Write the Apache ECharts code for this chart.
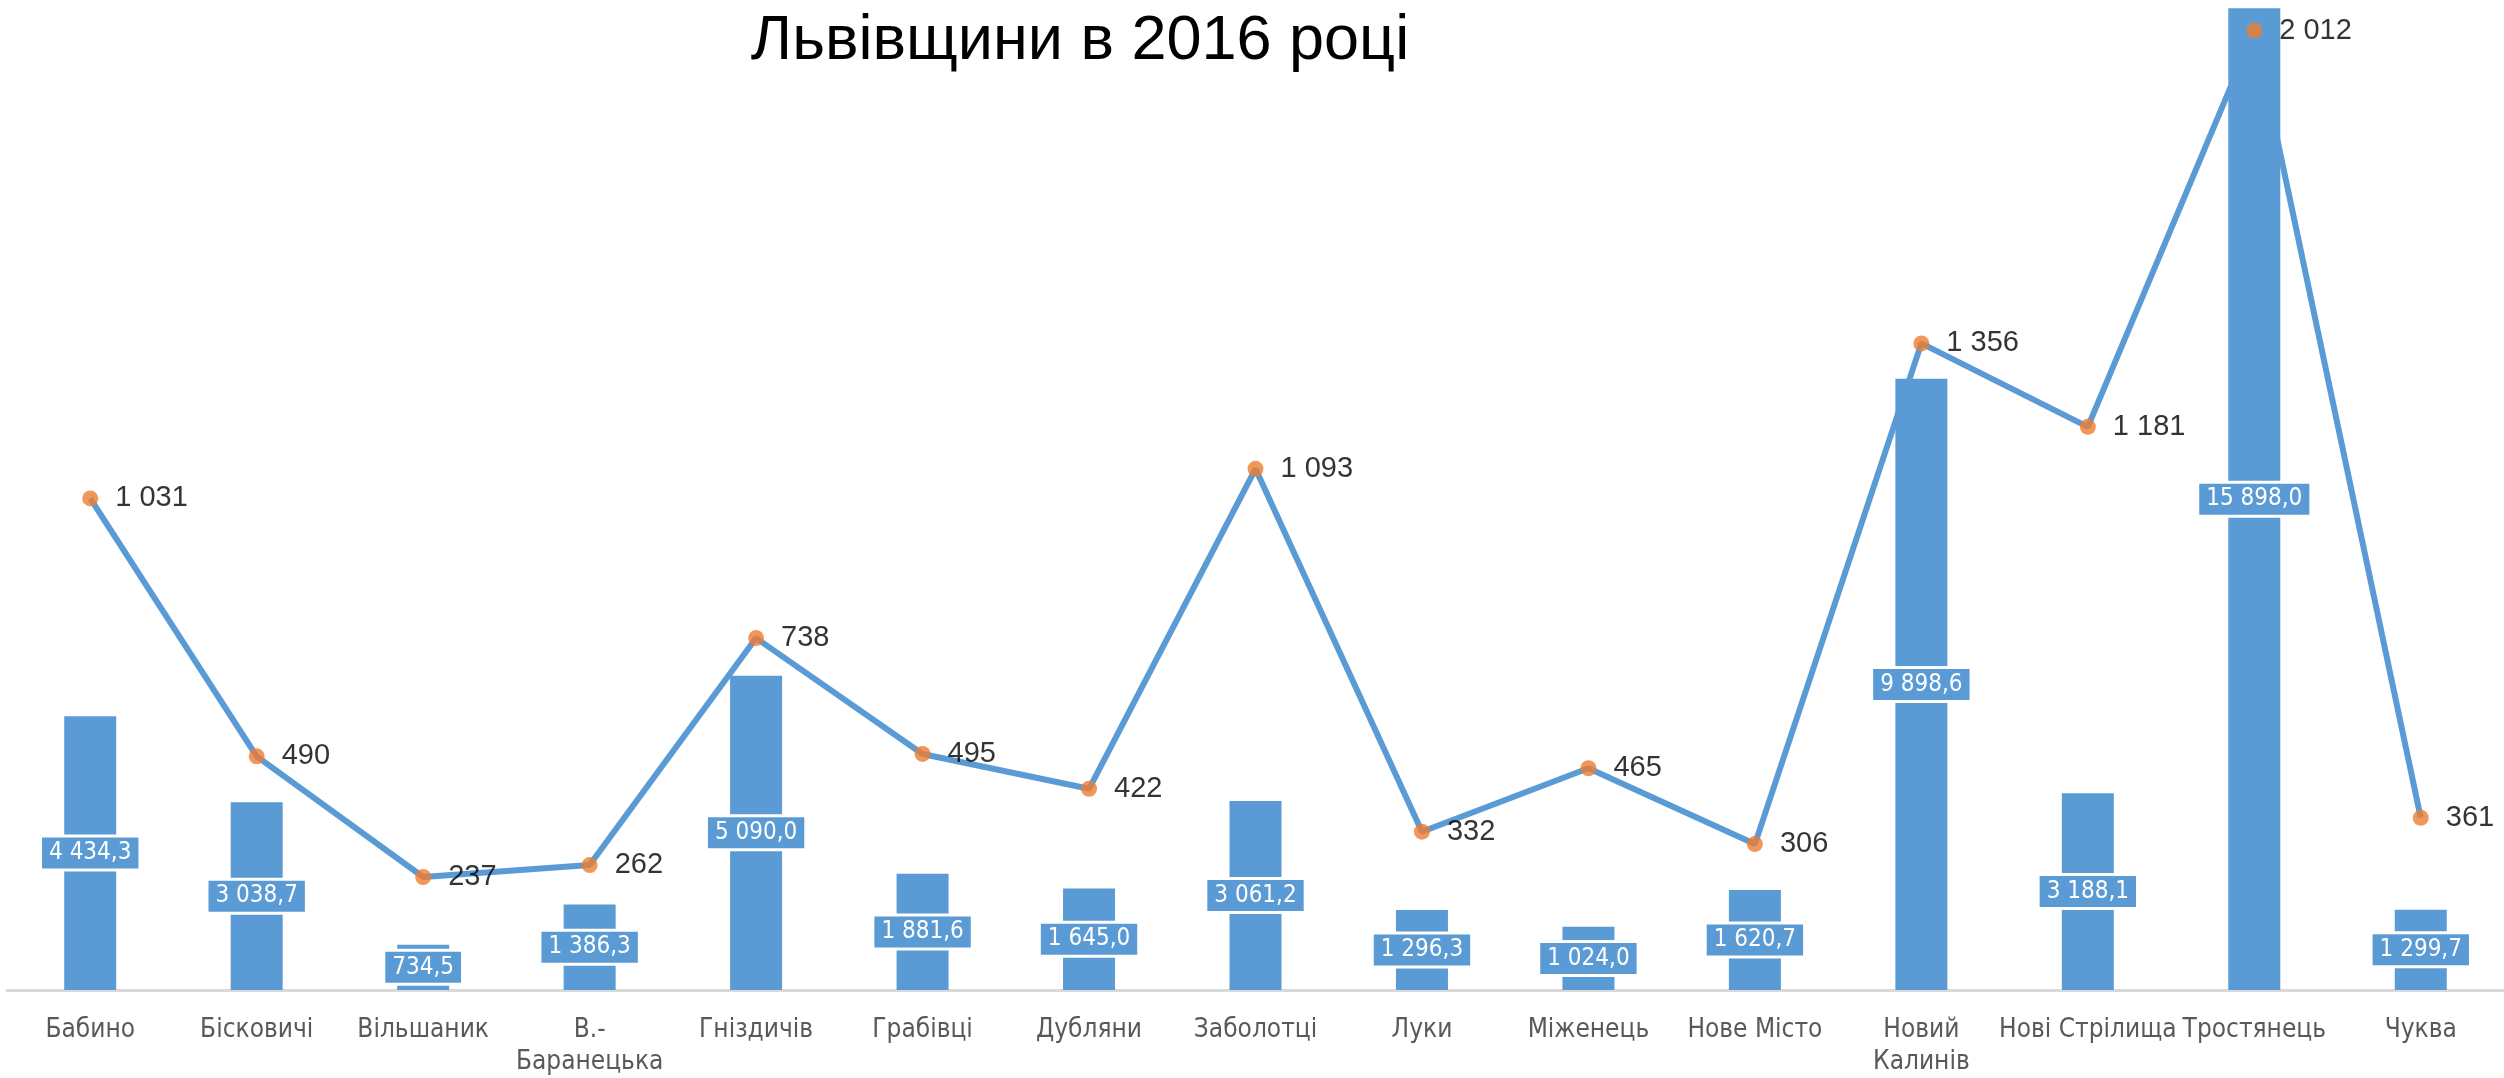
<!DOCTYPE html>
<html><head><meta charset="utf-8">
<script src="https://cdn.jsdelivr.net/npm/echarts@6/dist/echarts.min.js"></script>
<style>html,body{margin:0;padding:0;background:#fff}#c{width:2504px;height:1078px}</style>
</head><body><div id="c"></div>
<script>
const titleText = 'Львівщини в 2016 році';
const categories = ['Бабино','Бісковичі','Вільшаник','В.-Баранецька','Гніздичів','Грабівці','Дубляни','Заболотці','Луки','Міженець','Нове Місто','Новий Калинів','Нові Стрілища','Тростянець','Чуква'];
const barValues = [4434.3, 3038.7, 734.5, 1386.3, 5090.0, 1881.6, 1645.0, 3061.2, 1296.3, 1024.0, 1620.7, 9898.6, 3188.1, 15898.0, 1299.7];
const lineValues = [1031, 490, 237, 262, 738, 495, 422, 1093, 332, 465, 306, 1356, 1181, 2012, 361];

function fmt(v, dec) {
  const s = v.toFixed(dec);
  const parts = s.split('.');
  const int = parts[0].replace(/\B(?=(\d{3})+(?!\d))/g, ' ');
  return parts.length > 1 ? int + ',' + parts[1] : int;
}
function wrapName(n) {
  return n.replace('В.-', 'В.-\n').replace('Новий ', 'Новий\n');
}

const chart = echarts.init(document.getElementById('c'));
chart.setOption({
  animation: false,
  backgroundColor: '#fff',
  title: {
    text: titleText, left: 1075, top: 5, textAlign: 'center',
    textStyle: {fontFamily: 'Liberation Sans', fontSize: 63, fontWeight: 'normal', color: '#000'}
  },
  grid: {left: 7, right: 0, top: 2, bottom: 83, containLabel: false},
  xAxis: {
    type: 'category', data: categories,
    axisLine: {lineStyle: {color: '#d9d9d9', width: 3}},
    axisTick: {show: false},
    axisLabel: {interval: 0, margin: 24, color: '#595959', fontSize: 26, lineHeight: 32,
      fontFamily: 'Liberation Sans Narrow, DejaVu Sans Condensed, sans-serif', formatter: wrapName}
  },
  yAxis: [
    {type: 'value', min: 0, max: 16000, show: false, splitLine: {show: false}},
    {type: 'value', min: 0, max: 2072, show: false, splitLine: {show: false}}
  ],
  series: [
    {type: 'line', data: lineValues, yAxisIndex: 1, z: 1, symbol: 'none',
      lineStyle: {color: '#5B9BD5', width: 6}},
    {type: 'bar', data: barValues, yAxisIndex: 0, z: 2, barWidth: 52,
      itemStyle: {color: '#5B9BD5'},
      label: {show: true, position: 'inside', formatter: p => fmt(p.value, 1),
        color: '#fff', fontSize: 24, lineHeight: 25,
        fontFamily: 'Liberation Sans Narrow, DejaVu Sans Condensed, sans-serif',
        backgroundColor: '#5B9BD5', borderColor: '#fff', borderWidth: 3, padding: [3, 7]}},
    {type: 'scatter', data: lineValues, yAxisIndex: 1, z: 3, symbolSize: 16,
      itemStyle: {color: '#ED7D31'},
      label: {show: true, position: 'right', distance: 17, formatter: p => fmt(p.value, 0),
        color: '#000', fontSize: 29, fontFamily: 'Liberation Sans, sans-serif'}}
  ]
});
</script></body></html>
